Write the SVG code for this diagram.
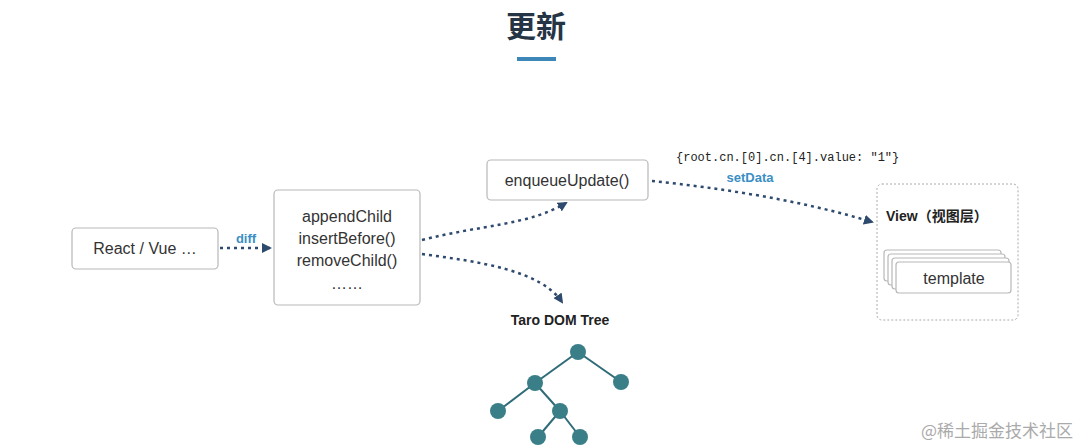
<svg xmlns="http://www.w3.org/2000/svg" width="1080" height="446" viewBox="0 0 1080 446">
<defs>
<style>
.box{fill:#fff;stroke:#b8b8b8;stroke-width:1.2}
.t{font-family:"Liberation Sans",Arial,sans-serif;font-size:16px;fill:#333;text-anchor:middle}
.b{font-family:"Liberation Sans",Arial,sans-serif;font-weight:bold;fill:#222}
.lbl{font-family:"Liberation Sans",Arial,sans-serif;font-weight:bold;font-size:13px;fill:#3a8fc4}
.c{fill:none;stroke:#2e4a6e;stroke-width:2.5;stroke-dasharray:3 4}
.e{stroke:#2f6b78;stroke-width:2}
.n{fill:#3a7f88}
</style>
<marker id="ar" viewBox="0 0 10 10" refX="8" refY="5" markerWidth="4" markerHeight="4" orient="auto"><path d="M0,0L10,5L0,10z" fill="#2e4a6e"/></marker>
</defs>
<rect width="1080" height="446" fill="#fff"/>
<text x="536" y="37" text-anchor="middle" font-family="'Noto Sans CJK SC',sans-serif" font-weight="bold" font-size="30" fill="#263545">更新</text>
<rect x="517" y="57" width="39" height="4" fill="#3d86b8"/>
<g id="connectors">
<path class="c" d="M220,248 L270,248" marker-end="url(#ar)"/>
<path class="c" d="M422,240 C480,225 530,225 566,203" marker-end="url(#ar)"/>
<path class="c" d="M422,254 C480,262 540,270 562,302" marker-end="url(#ar)"/>
<path class="c" d="M652,181 C720,188 800,200 872,222" marker-end="url(#ar)"/>
<text class="lbl" x="246" y="243" text-anchor="middle">diff</text>
<text class="lbl" x="750" y="182" text-anchor="middle">setData</text>
<text x="676" y="161" font-family="'Liberation Mono',monospace" font-size="12" fill="#222">{root.cn.[0].cn.[4].value: "1"}</text>
</g>
<g id="react"><rect class="box" x="72" y="228" width="146" height="41" rx="4"/><text class="t" x="145" y="254">React / Vue …</text></g>
<g id="ops"><rect class="box" x="274" y="190" width="146" height="115" rx="4"/>
<text class="t" x="347" y="222">appendChild</text><text class="t" x="347" y="244">insertBefore()</text><text class="t" x="347" y="266">removeChild()</text><text class="t" x="347" y="289" font-size="12">……</text></g>
<g id="enqueue"><rect class="box" x="487" y="160" width="161" height="40" rx="4"/><text class="t" x="567" y="186">enqueueUpdate()</text></g>
<g id="view"><rect x="877" y="184" width="141" height="136" rx="5" fill="#fff" stroke="#aaa" stroke-dasharray="2 2"/>
<text class="b" x="886" y="221" font-size="14">View<tspan font-family="'Noto Sans CJK SC',sans-serif">（视图层）</tspan></text>
<rect class="box" x="884" y="250" width="117" height="31" rx="3"/>
<rect class="box" x="888" y="254" width="117" height="31" rx="3"/>
<rect class="box" x="892" y="258" width="117" height="31" rx="3"/>
<rect class="box" x="896" y="262" width="115" height="31" rx="3"/>
<text class="t" x="954" y="284">template</text></g>
<g id="tree">
<text class="b" x="560" y="325" font-size="14" text-anchor="middle">Taro DOM Tree</text>
<g class="e"><line x1="578" y1="352" x2="535" y2="383"/><line x1="578" y1="352" x2="621" y2="382"/><line x1="535" y1="383" x2="498" y2="411"/><line x1="535" y1="383" x2="560" y2="411"/><line x1="560" y1="411" x2="538" y2="437"/><line x1="560" y1="411" x2="580" y2="437"/></g>
<circle class="n" cx="578" cy="352" r="8"/><circle class="n" cx="535" cy="383" r="8"/><circle class="n" cx="621" cy="382" r="8"/><circle class="n" cx="498" cy="411" r="8"/><circle class="n" cx="560" cy="411" r="8"/><circle class="n" cx="538" cy="437" r="8"/><circle class="n" cx="580" cy="437" r="8"/>
</g>
<text x="1073" y="437" text-anchor="end" font-family="'Noto Sans CJK SC',sans-serif" font-size="17" fill="#aaa">@稀土掘金技术社区</text>
</svg>
